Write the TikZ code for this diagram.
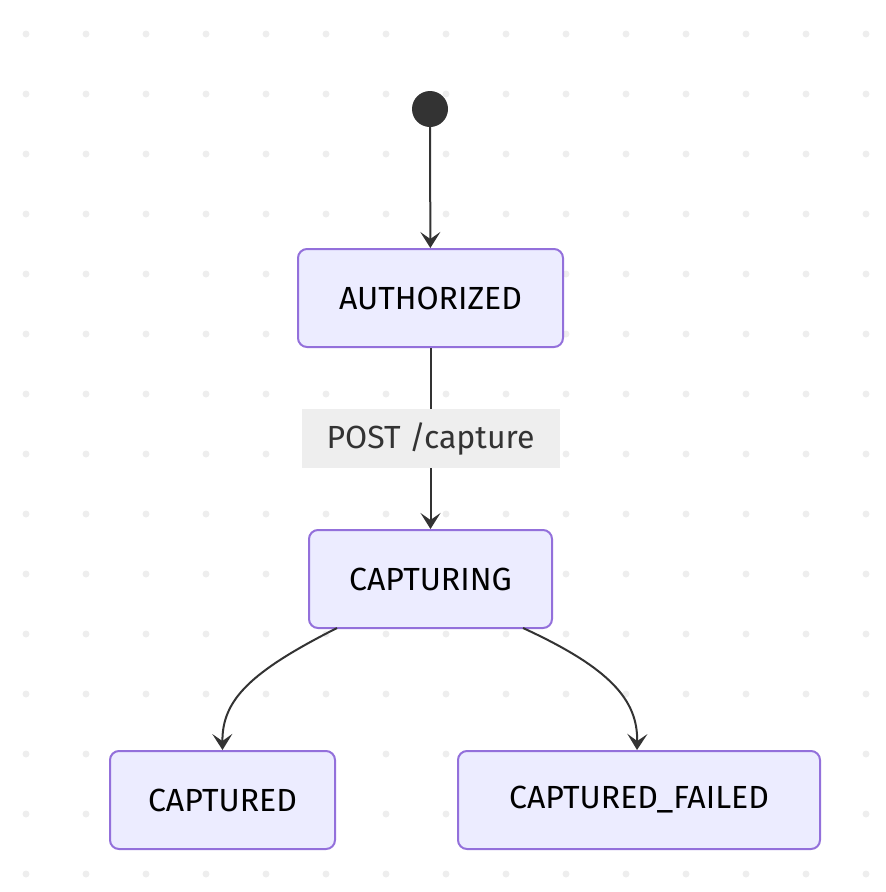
\documentclass[tikz,border=0pt]{standalone}
\usepackage{fontspec}
\setmainfont{Fira Sans}
\usetikzlibrary{arrows.meta}
\definecolor{fillc}{HTML}{ECECFF}
\definecolor{bordc}{HTML}{9370DB}
\definecolor{linec}{HTML}{333333}
\definecolor{dotc}{HTML}{EEEEEE}
\begin{document}
\begin{tikzpicture}[x=1pt,y=-1pt,
  st/.style={draw=bordc,fill=fillc,line width=2pt,rounded corners=9pt,font=\fontsize{32}{36}\selectfont,text=black,inner sep=0pt},
  arr/.style={draw=linec,line width=2pt,-{Stealth[length=16pt,width=20pt,inset=7pt]}}]
\useasboundingbox (0,0) rectangle (886,892);
\foreach \i in {0,...,14}{\foreach \j in {0,...,14}{\fill[dotc] (26+60*\i,34+60*\j) circle (3.5);}}
\node[circle,fill=linec,minimum size=36pt,inner sep=0pt] (s) at (430,109) {};
\node[st,minimum width=265pt,minimum height=98pt] (a) at (430.5,298) {AUTHORIZED};
\node[st,minimum width=243pt,minimum height=98pt] (c) at (430.5,579) {CAPTURING};
\node[st,minimum width=225pt,minimum height=98pt] (d) at (222.5,800) {CAPTURED};
\node[st,minimum width=362pt,minimum height=98pt] (f) at (639,800) {CAPTURED\_FAILED};
\draw[arr] (s) -- (a);
\draw[arr] (a) -- node[fill=dotc,text=linec,font=\fontsize{32}{36}\selectfont,minimum width=258pt,minimum height=59pt,inner sep=0pt]{POST /capture} (c);
\coordinate (c1) at (337,628);
\coordinate (c2) at (523,628);
\draw[arr] (c1) .. controls (250,672) and (222,700) .. (d.north);
\draw[arr] (c2) .. controls (610,668) and (638,700) .. (f.north -| 637,0);
\end{tikzpicture}
\end{document}
